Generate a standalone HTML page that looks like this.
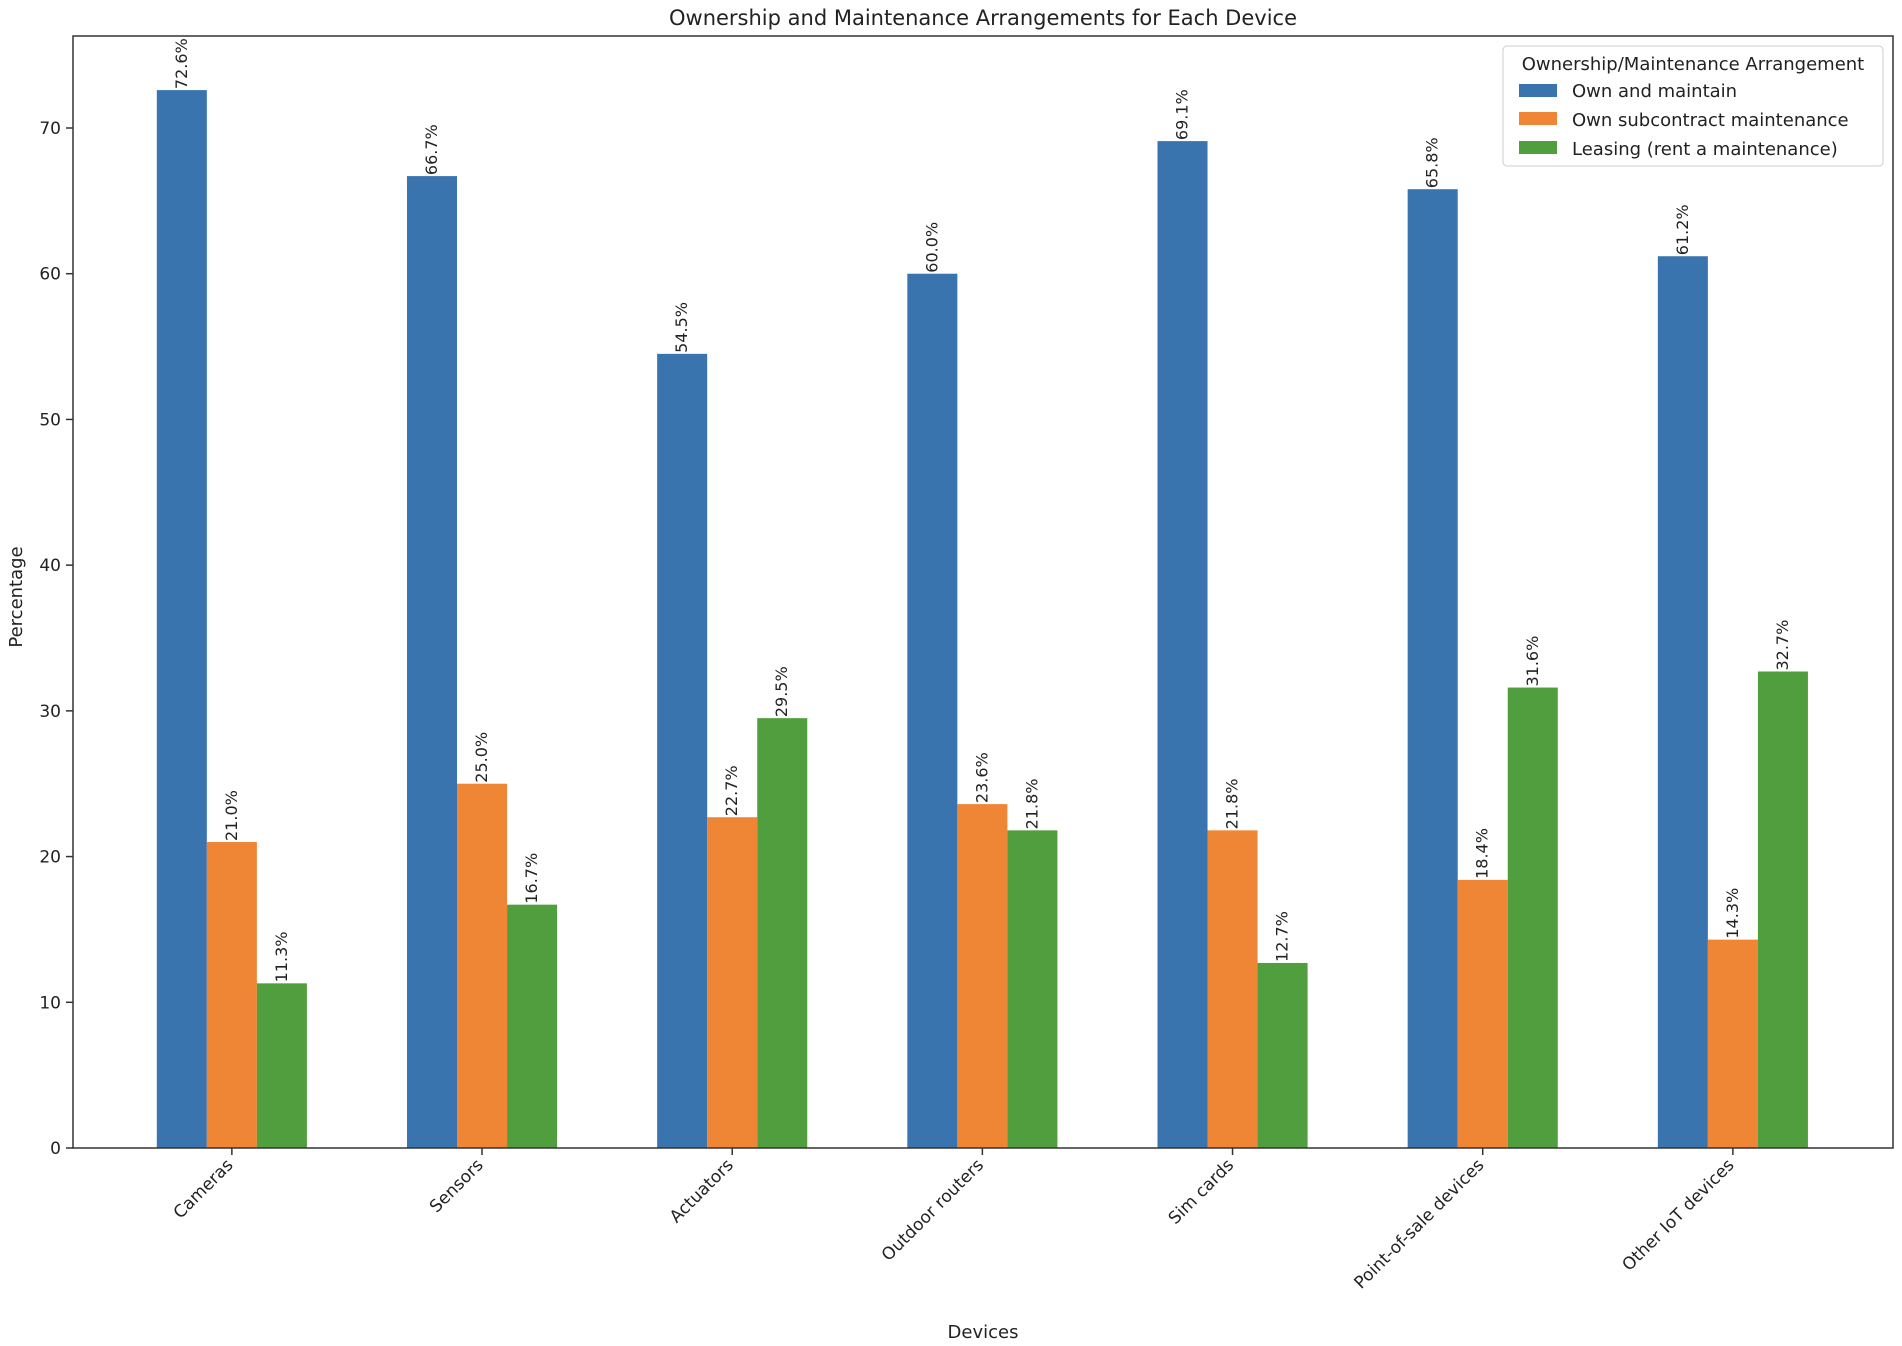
<!DOCTYPE html>
<html><head><meta charset="utf-8"><style>
html,body{margin:0;padding:0;background:#fff;}
svg{display:block;font-family:"DejaVu Sans","Liberation Sans",sans-serif;}
</style></head><body>
<svg id="chart" width="1902" height="1346" viewBox="0 0 1902 1346">
<text x="983" y="25" font-size="21" text-anchor="middle" fill="#222">Ownership and Maintenance Arrangements for Each Device</text>
<g id="plot"></g>
<text x="983" y="1338" font-size="18" text-anchor="middle" fill="#222">Devices</text>
<text transform="translate(22,597) rotate(-90)" font-size="18" text-anchor="middle" fill="#222">Percentage</text>
<g>
<rect x="1503" y="46" width="380" height="120" rx="4" fill="#fff" stroke="#ccc"/>
<text x="1693" y="70" font-size="18" text-anchor="middle" fill="#222">Ownership/Maintenance Arrangement</text>
<g><rect x="1519" y="84" width="38" height="13" fill="#3a74ae"/><text x="1572" y="97" font-size="18" fill="#222">Own and maintain</text></g>
<g><rect x="1519" y="112" width="38" height="13" fill="#ef8636"/><text x="1572" y="126" font-size="18" fill="#222">Own subcontract maintenance</text></g>
<g><rect x="1519" y="141" width="38" height="13" fill="#519e3e"/><text x="1572" y="155" font-size="18" fill="#222">Leasing (rent a maintenance)</text></g>
</g>
</svg>
<script>
const categories = ["Cameras","Sensors","Actuators","Outdoor routers","Sim cards","Point-of-sale devices","Other IoT devices"];
const ownMaintain = [72.6,66.7,54.5,60.0,69.1,65.8,61.2];
const ownSubcontract = [21.0,25.0,22.7,23.6,21.8,18.4,14.3];
const leasing = [11.3,16.7,29.5,21.8,12.7,31.6,32.7];
const yTicks = [0,10,20,30,40,50,60,70];
const seriesNames = ["own-maintain","own-subcontract","leasing"];

const L=73,R=1893,T=36,B=1148;
const xMin=-0.635,xMax=6.64,yMax=(B-T)/((B-128)/70);
const xs=v=>L+(v-xMin)/(xMax-xMin)*(R-L);
const ys=v=>B-v/yMax*(B-T);
const NS="http://www.w3.org/2000/svg";
const g=document.getElementById('plot');
function mk(tag,attrs,parent){const e=document.createElementNS(NS,tag);for(const k in attrs)e.setAttribute(k,attrs[k]);(parent||g).appendChild(e);return e;}

const series=[ownMaintain,ownSubcontract,leasing];
const colors=["#3a74ae","#ef8636","#519e3e"];
const w=0.2;
series.forEach((vals,si)=>{
  vals.forEach((v,i)=>{
    const x0=xs(i+(si-1)*w-w/2), x1=xs(i+(si-1)*w+w/2);
    const r=mk('rect',{x:x0,y:ys(v),width:x1-x0,height:B-ys(v),fill:colors[si]});
    
    
    const cx=(x0+x1)/2;
    const t=mk('text',{transform:`translate(${cx+5},${ys(v)-1}) rotate(-90)`,'font-size':16,fill:'#222'});
    t.textContent=v.toFixed(1)+'%';
    
    
  });
});
const fr=mk('rect',{x:L,y:T,width:R-L,height:B-T,fill:'none',stroke:'#333','stroke-width':1.5});


yTicks.forEach(v=>{
  const y=ys(v);
  mk('line',{x1:L-7,x2:L,y1:y,y2:y,stroke:'#333','stroke-width':1.5});
  const t=mk('text',{x:L-12,y:y+6,'font-size':17,'text-anchor':'end',fill:'#222'});
  t.textContent=v;
  
  
});
categories.forEach((c,i)=>{
  const x=xs(i);
  mk('line',{x1:x,x2:x,y1:B,y2:B+7,stroke:'#333','stroke-width':1.5});
  const t=mk('text',{transform:`translate(${x+2},${B+18}) rotate(-45)`,'font-size':17,'text-anchor':'end',fill:'#222'});
  t.textContent=c;
  
  
});
</script>
</body></html>
